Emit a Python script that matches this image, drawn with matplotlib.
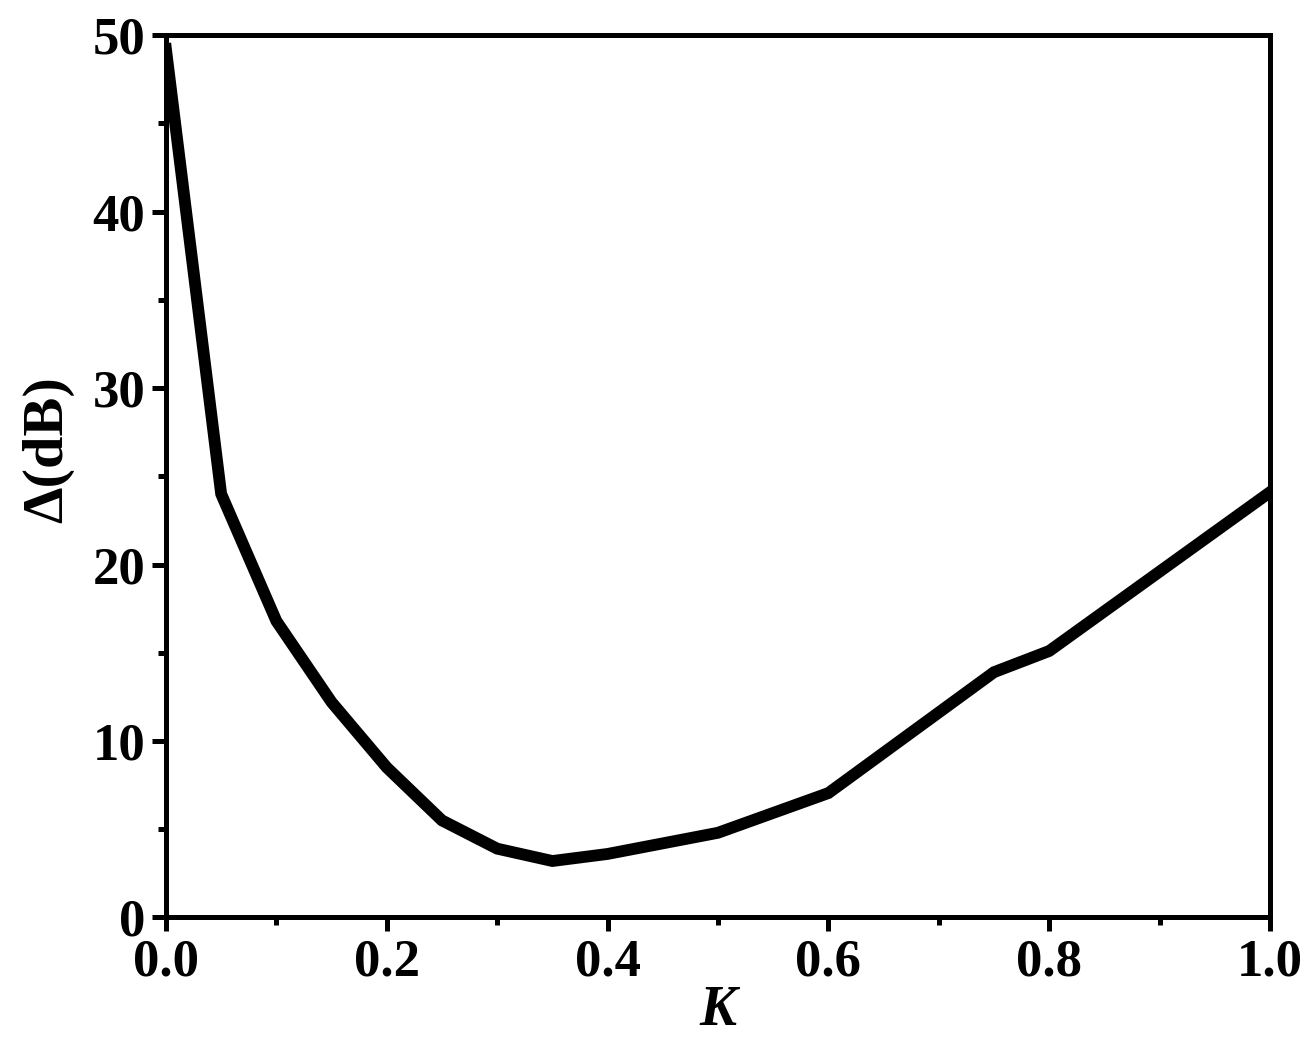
import numpy as np
import matplotlib.pyplot as plt
from matplotlib.ticker import MultipleLocator

# K values and Delta (dB)
k_vals = [0.0, 0.05, 0.1, 0.15, 0.2, 0.25, 0.3, 0.35, 0.4, 0.5, 0.6, 0.75, 0.8, 1.0]
delta_db = [49.2, 24.0, 16.8, 12.2, 8.5, 5.5, 3.9, 3.2, 3.6, 4.8, 7.05, 13.9, 15.1, 24.1]

plt.rcParams['font.family'] = ['Liberation Serif', 'DejaVu Serif']
plt.rcParams['font.weight'] = 'bold'

fig = plt.figure(figsize=(13.15, 10.4), dpi=100)
ax = fig.add_axes([0.1262, 0.1178, 0.8396, 0.8485])

ax.plot(k_vals, delta_db, color='black', linewidth=8.5, solid_joinstyle='miter')

ax.set_xlim(0, 1.0)
ax.set_ylim(0, 50)
ax.xaxis.set_major_locator(MultipleLocator(0.2))
ax.xaxis.set_minor_locator(MultipleLocator(0.1))
ax.yaxis.set_major_locator(MultipleLocator(10))
ax.yaxis.set_minor_locator(MultipleLocator(5))
ax.xaxis.set_major_formatter(plt.FormatStrFormatter('%.1f'))

for s in ax.spines.values():
    s.set_linewidth(3.6)
ax.tick_params(which='major', direction='out', length=10, width=3.6,
               labelsize=38, pad=5)
ax.tick_params(which='minor', direction='out', length=5.5, width=3.6)
for lab in ax.get_xticklabels() + ax.get_yticklabels():
    lab.set_fontweight('bold')

ax.set_xlabel('K', fontsize=40, fontweight='bold', style='italic', labelpad=-1)
ax.set_ylabel('Δ(dB)', fontsize=42, fontweight='bold')
ax.yaxis.set_label_coords(-0.083, 0.53)

fig.savefig('out.png', dpi=100)
